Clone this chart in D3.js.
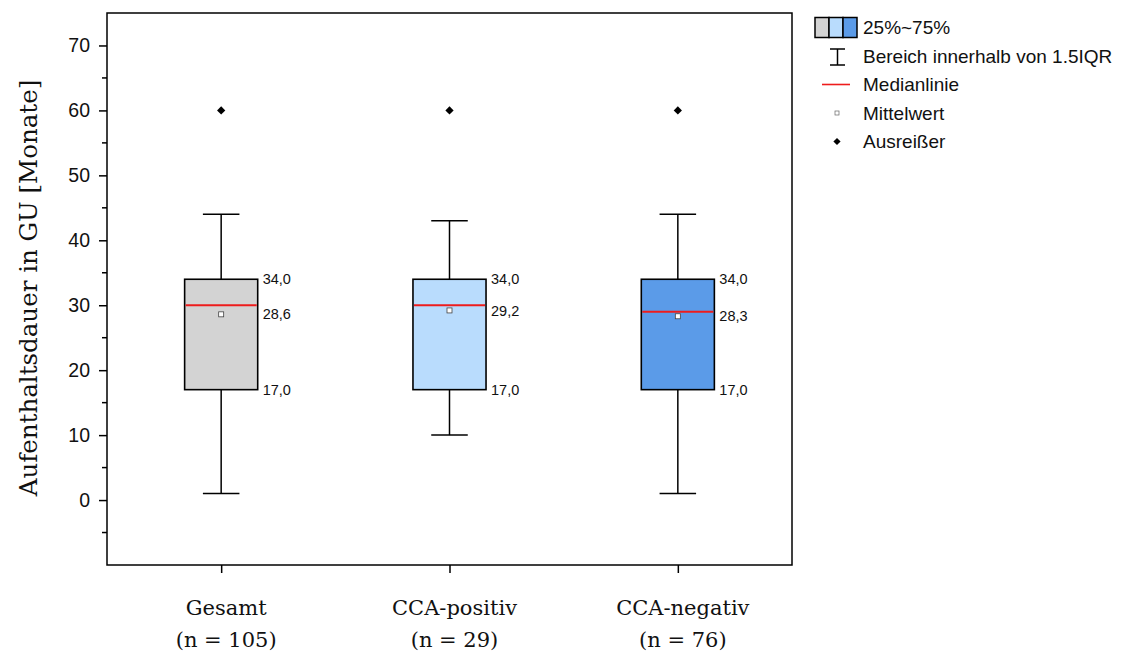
<!DOCTYPE html>
<html>
<head>
<meta charset="utf-8">
<script src="https://cdn.jsdelivr.net/npm/d3@7"></script>
<style>
  body { margin: 0; background: #fff; }
  svg { display: block; }
</style>
</head>
<body>
<svg id="chart" width="1126" height="655"></svg>
<script>
// data
const groups = ["Gesamt", "CCA-positiv", "CCA-negativ"];
const groupN = ["(n = 105)", "(n = 29)", "(n = 76)"];
const whiskerLow = [1, 10, 1];
const q1 = [17, 17, 17];
const median = [30, 30, 29];
const q3 = [34, 34, 34];
const whiskerHigh = [44, 43, 44];
const means = [28.6, 29.2, 28.3];
const outliers = [60, 60, 60];
const yTicks = [0, 10, 20, 30, 40, 50, 60, 70];
const legendLabels = ["25%~75%", "Bereich innerhalb von 1.5IQR", "Medianlinie", "Mittelwert", "Ausreißer"];

const boxColors = ["#d3d3d3", "#b9dcfd", "#5b9be8"];
const fmt = v => v.toFixed(1).replace(".", ",");

const svg = d3.select("#chart");
const plotL = 107, plotR = 792, plotT = 13, plotB = 565;

const x = d3.scaleLinear().domain([0.5, 3.5]).range([plotL, plotR]);
const y = d3.scaleLinear().domain([-10, 75]).range([plotB, plotT]);

const boxW = 0.32;   // in category units
const capW = 0.16;
const sans = "'Liberation Sans', Arial, sans-serif";
const serif = "'DejaVu Serif', 'Liberation Serif', serif";

// axes
const yAxis = d3.axisLeft(y).tickValues(yTicks).tickSize(8).tickPadding(9);
const gy = svg.append("g").attr("transform", `translate(${plotL},0)`).call(yAxis);
gy.select(".domain").remove();
gy.selectAll(".tick line").attr("stroke", "#000").attr("stroke-width", 1.5);
gy.selectAll(".tick text")
  .attr("font-family", sans)
  .attr("font-size", 19.5).attr("fill", "#111");

// minor ticks
svg.append("g").selectAll("line")
  .data(d3.range(-5, 75, 10))
  .join("line")
  .attr("x1", plotL - 5).attr("x2", plotL)
  .attr("y1", d => y(d)).attr("y2", d => y(d))
  .attr("stroke", "#000").attr("stroke-width", 1.5);

const xAxis = d3.axisBottom(x).tickValues([1, 2, 3]).tickSize(8).tickFormat("");
const gx = svg.append("g").attr("transform", `translate(0,${plotB})`).call(xAxis);
gx.select(".domain").remove();
gx.selectAll(".tick line").attr("stroke", "#000").attr("stroke-width", 1.5);

// frame
svg.append("rect")
  .attr("x", plotL).attr("y", plotT)
  .attr("width", plotR - plotL).attr("height", plotB - plotT)
  .attr("fill", "none").attr("stroke", "#000").attr("stroke-width", 1.5);

// category labels
groups.forEach((g, i) => {
  const cx = x(i + 1) + 5;
  const t = svg.append("text")
    .attr("text-anchor", "middle")
    .attr("font-family", serif).attr("font-size", 21).attr("fill", "#111");
  t.append("tspan").attr("x", cx).attr("y", 615).text(g);
  t.append("tspan").attr("x", cx).attr("y", 647).text(groupN[i]);
});

// y title
svg.append("text")
  .attr("transform", `translate(37,${(plotT + plotB) / 2 - 1}) rotate(-90)`)
  .attr("text-anchor", "middle")
  .attr("font-family", serif).attr("font-size", 24.5).attr("fill", "#111")
  .text("Aufenthaltsdauer in GU [Monate]");

// boxes
const plot = svg.append("g");
groups.forEach((g, i) => {
  const c = i + 1;
  const xl = x(c - boxW / 2), xr = x(c + boxW / 2);
  // whiskers
  plot.append("line").attr("x1", x(c)).attr("x2", x(c))
    .attr("y1", y(whiskerHigh[i])).attr("y2", y(q3[i]))
    .attr("stroke", "#000").attr("stroke-width", 1.5);
  plot.append("line").attr("x1", x(c)).attr("x2", x(c))
    .attr("y1", y(q1[i])).attr("y2", y(whiskerLow[i]))
    .attr("stroke", "#000").attr("stroke-width", 1.5);
  [whiskerHigh[i], whiskerLow[i]].forEach(v => {
    plot.append("line").attr("x1", x(c - capW / 2)).attr("x2", x(c + capW / 2))
      .attr("y1", y(v)).attr("y2", y(v))
      .attr("stroke", "#000").attr("stroke-width", 1.5);
  });
  // box
  plot.append("rect")
    .attr("x", xl).attr("y", y(q3[i]))
    .attr("width", xr - xl).attr("height", y(q1[i]) - y(q3[i]))
    .attr("fill", boxColors[i]).attr("stroke", "#000").attr("stroke-width", 1.6);
  // median
  plot.append("line").attr("x1", xl + 1).attr("x2", xr - 1)
    .attr("y1", y(median[i])).attr("y2", y(median[i]))
    .attr("stroke", "#ee1c1c").attr("stroke-width", 2);
  // mean
  plot.append("rect")
    .attr("x", x(c) - 2.5).attr("y", y(means[i]) - 2.5)
    .attr("width", 5).attr("height", 5)
    .attr("fill", "#fff").attr("stroke", "#444").attr("stroke-width", 0.8);
  // outlier
  plot.append("path")
    .attr("transform", `translate(${x(c)},${y(outliers[i])}) rotate(45)`)
    .attr("d", d3.symbol(d3.symbolSquare, 34)())
    .attr("fill", "#000");
  // value labels
  [[q3[i], fmt(q3[i])], [means[i], fmt(means[i])], [q1[i], fmt(q1[i])]].forEach(([v, s]) => {
    plot.append("text")
      .attr("x", xr + 5).attr("y", y(v)).attr("dy", "0.35em")
      .attr("font-family", sans)
      .attr("font-size", 14.5).attr("fill", "#111")
      .text(s);
  });
});

// legend
const lx = 815, ly = 27.5, step = 28.5;
const leg = svg.append("g");
boxColors.forEach((col, k) => {
  leg.append("rect")
    .attr("x", lx + k * 14).attr("y", ly - 10)
    .attr("width", 14).attr("height", 20)
    .attr("fill", col).attr("stroke", "#000").attr("stroke-width", 1.5);
});
// whisker symbol
const wy = ly + step + 1;
leg.append("line").attr("x1", 837.5).attr("x2", 837.5).attr("y1", wy - 8).attr("y2", wy + 8)
  .attr("stroke", "#000").attr("stroke-width", 1.5);
leg.append("line").attr("x1", 830).attr("x2", 845).attr("y1", wy - 8).attr("y2", wy - 8)
  .attr("stroke", "#000").attr("stroke-width", 1.5);
leg.append("line").attr("x1", 830).attr("x2", 845).attr("y1", wy + 8).attr("y2", wy + 8)
  .attr("stroke", "#000").attr("stroke-width", 1.5);
// median symbol
leg.append("line").attr("x1", 822).attr("x2", 850).attr("y1", ly + 2 * step).attr("y2", ly + 2 * step)
  .attr("stroke", "#ee1c1c").attr("stroke-width", 1.6);
// mean symbol
leg.append("rect").attr("x", 835).attr("y", ly + 3 * step - 2)
  .attr("width", 4).attr("height", 4)
  .attr("fill", "#fff").attr("stroke", "#666").attr("stroke-width", 0.7);
// outlier symbol
leg.append("path")
  .attr("transform", `translate(837,${ly + 4 * step}) rotate(45)`)
  .attr("d", d3.symbol(d3.symbolSquare, 26)())
  .attr("fill", "#000");
legendLabels.forEach((s, k) => {
  leg.append("text")
    .attr("x", 863).attr("y", ly + k * step).attr("dy", "0.35em")
    .attr("font-family", sans)
    .attr("font-size", 19).attr("fill", "#111")
    .text(s);
});
</script>
</body>
</html>
